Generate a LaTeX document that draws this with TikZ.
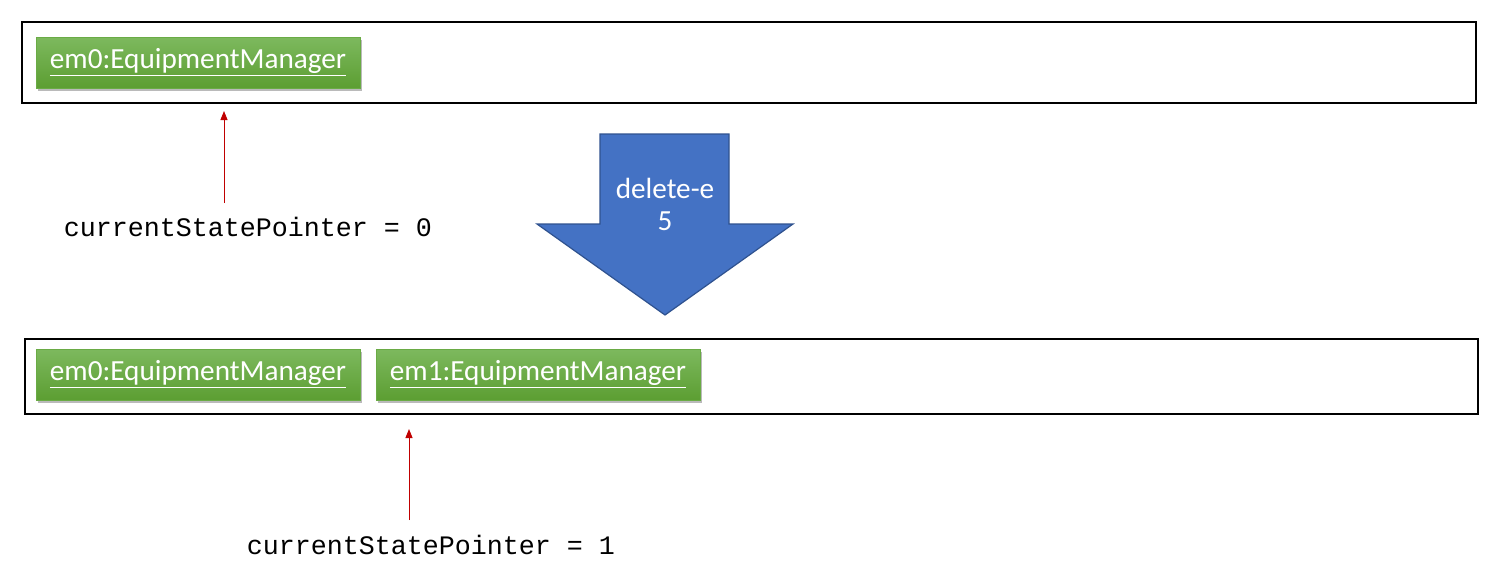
\documentclass[tikz,border=0pt]{standalone}
\usepackage{fontspec}
\setmainfont{Carlito}
\newfontfamily\monofont{Liberation Mono}
\usetikzlibrary{arrows.meta,shadows}
\definecolor{frameblack}{HTML}{000000}
\definecolor{gtop}{HTML}{7DB95E}
\definecolor{gbot}{HTML}{5C9E32}
\definecolor{gborder}{HTML}{6AAB45}
\definecolor{bluefill}{HTML}{4472C4}
\definecolor{blueedge}{HTML}{2F528F}
\definecolor{ptrred}{HTML}{C00000}
\def\px{0.75pt}
\newcommand{\ulbox}[1]{\underline{\smash{#1}\vphantom{g}\rule[-3pt]{0pt}{0pt}}}
\tikzset{
  frame/.style={draw=frameblack, line width=2*\px, fill=white, inner sep=0pt},
  objbox/.style={draw=gborder, line width=0.5*\px, top color=gtop, bottom color=gbot,
    minimum width=324*\px, minimum height=51*\px, inner sep=0pt,
    text=white, font=\fontsize{21.9}{26}\selectfont,
    drop shadow={shadow xshift=2*\px, shadow yshift=-3*\px, opacity=0.45, fill=black!60}},
  ptrtext/.style={font=\monofont\fontsize{20}{24}\selectfont, text=black, inner sep=0pt},
  ptrarrow/.style={draw=ptrred, line width=0.9*\px, -{Triangle[width=7*\px,length=9*\px]}},
  bigarrow/.style={fill=bluefill, draw=blueedge, line width=1.2*\px},
  arrowtext/.style={text=white, font=\fontsize{21.9}{26}\selectfont, inner sep=0pt, align=center}
}
\begin{document}
\begin{tikzpicture}[x=0.75pt, y=-0.75pt]
\useasboundingbox (0,0) rectangle (1498,587);
% top frame
\node[frame, minimum width=1454*\px, minimum height=81*\px] (top) at (749,62.5) {};
\node[objbox] (em0a) at (198,62.5) {\underline{em0:EquipmentManager}};
% pointer 0
\node[ptrtext] (ptr0) at (248,227) {currentStatePointer = 0};
\coordinate (s0) at (224,203);
\coordinate (t0) at (224,111);
\draw[ptrarrow] (s0) -- (t0);
% big arrow
\draw[bigarrow] (600,134) -- (729,134) -- (729,224) -- (793,224) -- (665,315) -- (537,224) -- (600,224) -- cycle;
\node[arrowtext] (cmd) at (665,204) {delete-e\\[-2pt]5};
% bottom frame
\node[frame, minimum width=1453*\px, minimum height=75*\px] (bot) at (751.5,376.5) {};
\node[objbox] (em0b) at (198,374.5) {\underline{em0:EquipmentManager}};
\node[objbox] (em1b) at (538,374.5) {\underline{em1:EquipmentManager}};
% pointer 1
\node[ptrtext] (ptr1) at (431,545) {currentStatePointer = 1};
\coordinate (s1) at (409,520);
\coordinate (t1) at (409,429);
\draw[ptrarrow] (s1) -- (t1);
\end{tikzpicture}
\end{document}
